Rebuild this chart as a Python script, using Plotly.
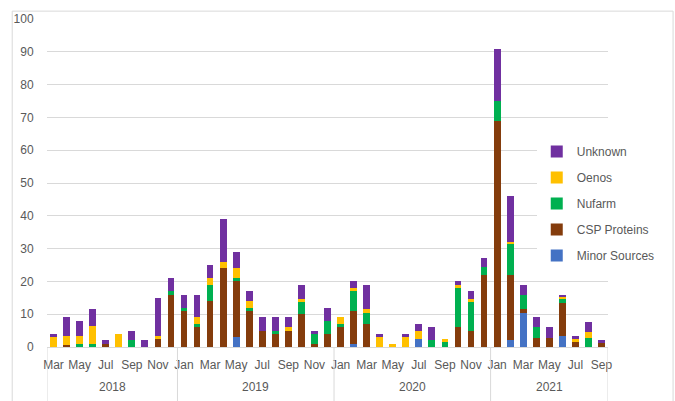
import plotly.graph_objects as go

months = ["Mar","Apr","May","Jun","Jul","Aug","Sep","Oct","Nov","Dec",
          "Jan","Feb","Mar","Apr","May","Jun","Jul","Aug","Sep","Oct","Nov","Dec",
          "Jan","Feb","Mar","Apr","May","Jun","Jul","Aug","Sep","Oct","Nov","Dec",
          "Jan","Feb","Mar","Apr","May","Jun","Jul","Aug","Sep"]
years = ["2018"]*10 + ["2019"]*12 + ["2020"]*12 + ["2021"]*9
categories = [f"{m} {y}" for m, y in zip(months, years)]

minor_sources = [0,0,0,0,0,0,0,0,0,0,
                 0,0,0,0,3,0,0,0,0,0,0,0,
                 0,1,0,0,0,0,2.5,0,0,0,0,0,
                 0,2,10.5,0,0,3.5,0,0,0]
csp_proteins = [0,0.5,0,0,1,0,0,0,2.5,16,
                11,6,14,24,17,11,5,4,5,10,1,4,
                6,10,7,0,0,0,0,0,0,6,5,22,
                69,20,1,2.7,2.7,10,1.5,0,1.5]
nufarm = [0,0,1,1,0,0,2,0,0,1,
          1,1,5,0,1,1,0,1,0,4,3,4,
          1,6,3.5,0,0,0,0,2,1.5,12,9,2.5,
          6,9.5,4.5,3.3,0,1,0,2.7,0]
oenos = [3,3,2.5,5.5,0,4,0,0,1,0,
         0,2,2,2,3,2,0,0,1,0.5,0,0,
         2,1,1,3,1,3,2.5,0,1,1,0.5,0,
         0,0.5,0,0,0,1,1,1.8,0]
unknown = [1,5.5,4.5,5,1,0,3,2,11.5,4,
           4,7,4,13,5,3,4,4,3,4.5,1,4,
           0,2,7.5,1,0,1,2,4,0,1,2.5,2.5,
           16,14,3,3,3.3,0.5,1,3.2,0.5]

series = [
    ("Minor Sources", minor_sources, "#4472C4"),
    ("CSP Proteins", csp_proteins, "#843C0C"),
    ("Nufarm", nufarm, "#00B050"),
    ("Oenos", oenos, "#FFC000"),
    ("Unknown", unknown, "#7030A0"),
]
y_ticks = list(range(0, 101, 10))
year_labels = ["2018", "2019", "2020", "2021"]

font_family = "Liberation Sans, Arial, sans-serif"
grey = "#595959"
fs = 12

fig = go.Figure()
n = len(series)
for i, (name, vals, color) in enumerate(series):
    fig.add_trace(go.Bar(x=categories, y=vals, name=name, marker_color=color,
                         marker_line_width=0, legendgroup=name, legendrank=n - i))

shapes = []
bounds = [-0.5]
for yr in year_labels:
    idx = [i for i, y in enumerate(years) if y == yr]
    bounds.append(idx[-1] + 0.5)
for b in bounds:
    shapes.append(dict(type="line", xref="x", yref="paper", x0=b, x1=b, y0=0, y1=-0.165,
                       line=dict(color="#d9d9d9", width=1)))
shapes.append(dict(type="rect", xref="paper", yref="paper", x0=-0.062, x1=1.116,
                   y0=-0.17, y1=1.024, line=dict(color="#d9d9d9", width=1)))

annotations = []
for yr in year_labels:
    idx = [i for i, y in enumerate(years) if y == yr]
    annotations.append(dict(x=(idx[0] + idx[-1]) / 2, y=-0.123, xref="x", yref="paper",
                            yanchor="middle", text=yr, showarrow=False,
                            font=dict(family=font_family, size=fs, color=grey)))

fig.update_layout(
    width=675, height=401,
    margin=dict(l=47, r=67, t=14, b=54),
    barmode="stack", bargap=0.48,
    paper_bgcolor="white", plot_bgcolor="white",
    font=dict(family=font_family, size=fs, color=grey),
    showlegend=True,
    legend=dict(traceorder="grouped", x=0.873, xanchor="left", y=0.64, yanchor="top",
                bgcolor="white", borderwidth=0, tracegroupgap=7,
                font=dict(family=font_family, size=fs, color=grey)),
    shapes=shapes, annotations=annotations,
)
fig.update_xaxes(type="category", tickmode="array", tickvals=categories[::2],
                 ticktext=months[::2], showgrid=False, showline=True,
                 linecolor="#d9d9d9", ticks="outside", ticklen=7, tickcolor="rgba(0,0,0,0)",
                 tickfont=dict(size=fs, color=grey), range=[-0.5, len(categories) - 0.5])
fig.update_yaxes(range=[0, 100], tickvals=y_ticks, showgrid=True, gridcolor="#d9d9d9",
                 gridwidth=1, zeroline=False, showline=False, ticks="outside", ticklen=10,
                 tickcolor="rgba(0,0,0,0)", tickfont=dict(size=fs, color=grey))

fig.write_html("out.html", config={"displayModeBar": False},
               post_script="document.body.style.margin='0';")
